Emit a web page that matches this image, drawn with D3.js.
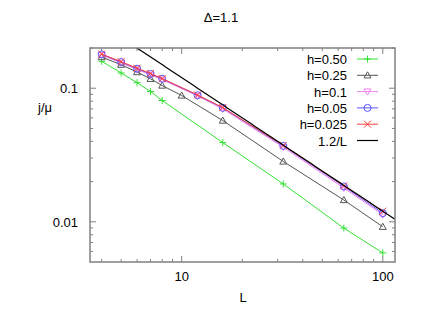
<!DOCTYPE html>
<html><head><meta charset="utf-8">
<script src="https://cdn.jsdelivr.net/npm/d3@7"></script>
<style>body{margin:0;background:#fff}svg{display:block}text{font-family:"Liberation Sans",Arial,sans-serif;}</style>
</head><body>
<script>
const title = "Δ=1.1";
const xLabel = "L";
const yLabel = "j/μ";
const xTicks = [10, 100];
const yTicks = [0.01, 0.1];
const L_h050 = [4,5,6,7,8,16,32,64,100];
const v_h050 = [0.159,0.130,0.110,0.0945,0.0809,0.0392,0.0192,0.00897,0.00585];
const L_h025 = [4,5,6,7,8,10,16,32,64,100];
const v_h025 = [0.171,0.150,0.132,0.1176,0.1047,0.0882,0.0573,0.0283,0.01456,0.00918];
const L_top = [4,5,6,7,8,12,16,32,64,100];
const v_h010 = [0.177,0.155,0.138,0.126,0.116,0.0875,0.0700,0.0362,0.0179,0.0113];
const v_h005 = [0.179,0.157,0.140,0.128,0.1176,0.0886,0.0713,0.0370,0.0184,0.0116];
const v_h0025 = [0.180,0.158,0.141,0.129,0.118,0.0890,0.0716,0.0373,0.0186,0.0120];
const refCoef = 1.2;

const series = [
  {name:"h=0.50", L:L_h050, v:v_h050, color:"#33e033", marker:"plus"},
  {name:"h=0.25", L:L_h025, v:v_h025, color:"#555555", marker:"tri"},
  {name:"h=0.1", L:L_top, v:v_h010, color:"#f080f0", marker:"tridown"},
  {name:"h=0.05", L:L_top, v:v_h005, color:"#5555ff", marker:"circle"},
  {name:"h=0.025", L:L_top, v:v_h0025, color:"#ff4040", marker:"cross"}
];

const W=443,H=310;
const m={l:90,r:48,t:48,b:48};
const svg=d3.select("body").append("svg").attr("width",W).attr("height",H);
const x=d3.scaleLog().domain([3.5,115]).range([m.l,W-m.r]);
const y=d3.scaleLog().domain([0.005,0.2]).range([H-m.b,m.t]);

const frameColor="#808080";
// minor ticks
const xMinor=[4,5,6,7,8,9,20,30,40,50,60,70,80,90];
const yMinor=[0.006,0.007,0.008,0.009,0.02,0.03,0.04,0.05,0.06,0.07,0.08,0.09,0.2];
const g=svg.append("g");
function tick(x1,y1,x2,y2){g.append("line").attr("x1",x1).attr("y1",y1).attr("x2",x2).attr("y2",y2).attr("stroke",frameColor).attr("stroke-width",1);}
xMinor.forEach(v=>{const px=x(v);tick(px,H-m.b,px,H-m.b-3);tick(px,m.t,px,m.t+3);});
xTicks.forEach(v=>{const px=x(v);tick(px,H-m.b,px,H-m.b-6);tick(px,m.t,px,m.t+6);});
yMinor.forEach(v=>{const py=y(v);tick(m.l,py,m.l+3,py);tick(W-m.r,py,W-m.r-3,py);});
yTicks.forEach(v=>{const py=y(v);tick(m.l,py,m.l+6,py);tick(W-m.r,py,W-m.r-6,py);});

// tick labels
xTicks.forEach(v=>svg.append("text").attr("x",x(v)).attr("y",H-m.b+19).attr("text-anchor","middle").attr("font-size",13).text(d3.format("d")(v)));
yTicks.forEach(v=>svg.append("text").attr("x",m.l-12).attr("y",y(v)+5).attr("text-anchor","end").attr("font-size",13).text(v===0.1?"0.1":"0.01"));

svg.append("text").attr("x",243).attr("y",302).attr("text-anchor","middle").attr("font-size",13).text(xLabel);
svg.append("text").attr("x",45).attr("y",112).attr("text-anchor","middle").attr("font-size",13).text(yLabel);
svg.append("text").attr("x",221).attr("y",22).attr("text-anchor","middle").attr("font-size",13).text(title);

const plot=svg.append("g");
const clipId="clip";
svg.append("clipPath").attr("id",clipId).append("rect").attr("x",m.l).attr("y",m.t).attr("width",W-m.l-m.r).attr("height",H-m.t-m.b);

function marker(sel,type,cx,cy,color){
  const s=3.5;
  if(type==="plus"){
    sel.append("path").attr("d",`M${cx-s},${cy}H${cx+s}M${cx},${cy-s}V${cy+s}`).attr("stroke",color).attr("fill","none");
  } else if(type==="cross"){
    sel.append("path").attr("d",`M${cx-s},${cy-s}L${cx+s},${cy+s}M${cx-s},${cy+s}L${cx+s},${cy-s}`).attr("stroke",color).attr("fill","none");
  } else if(type==="tri"){
    sel.append("path").attr("d",`M${cx},${cy-s}L${cx+s},${cy+s*0.75}L${cx-s},${cy+s*0.75}Z`).attr("stroke",color).attr("fill","none");
  } else if(type==="tridown"){
    sel.append("path").attr("d",`M${cx},${cy+s}L${cx+s},${cy-s*0.75}L${cx-s},${cy-s*0.75}Z`).attr("stroke",color).attr("fill","none");
  } else if(type==="circle"){
    sel.append("circle").attr("cx",cx).attr("cy",cy).attr("r",s).attr("stroke",color).attr("fill","none");
  }
}

const line=d3.line().x(d=>x(d[0])).y(d=>y(d[1]));
series.forEach(s=>{
  const pts=s.L.map((L,i)=>[L,s.v[i]]);
  plot.append("path").attr("d",line(pts)).attr("stroke",s.color).attr("fill","none").attr("stroke-width",1);
  pts.forEach(p=>marker(plot,s.marker,x(p[0]),y(p[1]),s.color));
});
// reference line 1.2/L
const refPts=d3.range(0,101).map(i=>{const L=Math.pow(10,Math.log10(3.5)+i*(Math.log10(115)-Math.log10(3.5))/100);return [L,refCoef/L];});
plot.append("path").attr("d",line(refPts)).attr("stroke","#000").attr("fill","none").attr("stroke-width",1.2).attr("clip-path",`url(#${clipId})`);

// frame
svg.append("rect").attr("x",m.l).attr("y",m.t).attr("width",W-m.l-m.r).attr("height",H-m.t-m.b).attr("fill","none").attr("stroke",frameColor).attr("stroke-width",1.5);

// legend
const leg=svg.append("g");
const legItems=series.map(s=>({name:s.name,color:s.color,marker:s.marker})).concat([{name:"1.2/L",color:"#000",marker:null}]);
legItems.forEach((d,i)=>{
  const ly=59+i*16.3;
  leg.append("text").attr("x",347).attr("y",ly+5).attr("text-anchor","end").attr("font-size",13).text(d.name);
  leg.append("line").attr("x1",357).attr("x2",378).attr("y1",ly).attr("y2",ly).attr("stroke",d.color).attr("stroke-width",d.marker?1:1.2);
  if(d.marker) marker(leg,d.marker,367.5,ly,d.color);
});
</script>
</body></html>
